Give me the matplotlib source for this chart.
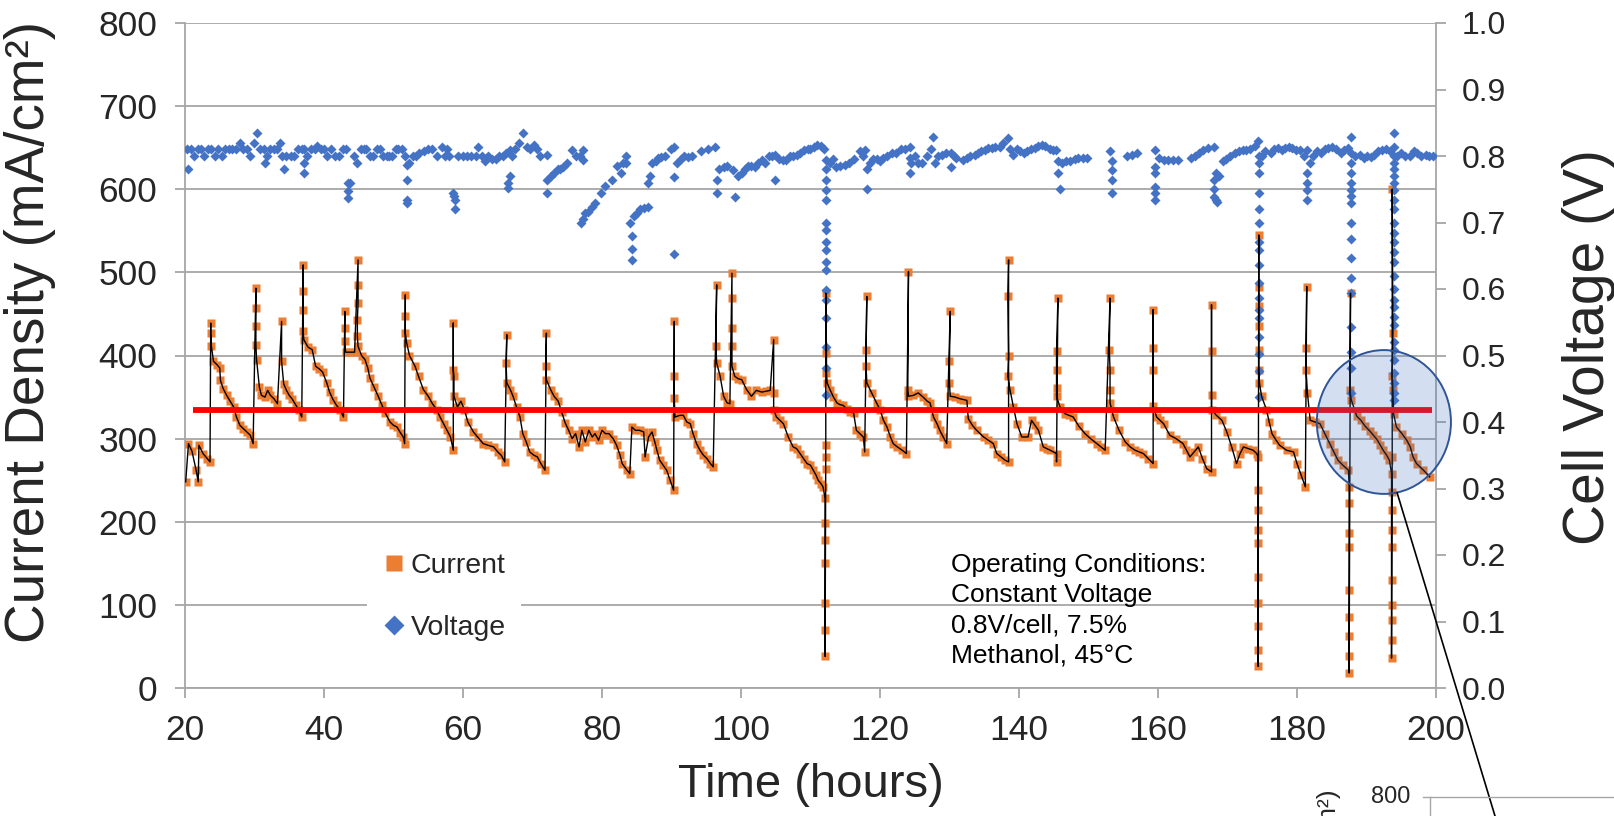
import matplotlib
matplotlib.use('Agg')
import matplotlib.pyplot as plt
from matplotlib.lines import Line2D
from matplotlib.patches import Ellipse, ConnectionPatch

plt.rcParams['font.family'] = ['Liberation Sans', 'DejaVu Sans']

# (time h, current density mA/cm2), in time order
current_points = [
    (20.1, 248), (20.5, 294), (21.0, 285), (21.6, 262), (21.9, 248), (22.0, 292), (22.6, 282),
    (23.2, 276), (23.6, 272), (23.7, 439), (23.7, 427), (23.8, 411), (24.1, 393), (24.6, 389),
    (25.0, 385), (25.1, 370), (25.5, 360), (26.0, 352), (26.5, 345), (27.0, 338), (27.4, 326),
    (27.9, 316), (28.4, 312), (28.9, 308), (29.4, 304), (29.8, 294), (30.2, 481), (30.2, 457),
    (30.2, 435), (30.2, 413), (30.3, 395), (30.7, 362), (31.0, 352), (31.5, 350), (31.9, 358),
    (32.3, 352), (32.8, 348), (33.3, 342), (33.9, 441), (33.9, 393), (34.2, 366), (34.6, 358),
    (35.0, 352), (35.4, 348), (35.9, 341), (36.4, 334), (36.8, 326), (37.0, 509), (37.0, 477),
    (37.0, 455), (37.0, 429), (37.1, 419), (37.7, 410), (38.3, 407), (38.8, 387), (39.3, 384),
    (39.8, 380), (40.4, 367), (40.8, 356), (41.3, 347), (41.8, 340), (42.3, 335), (42.8, 326),
    (43.0, 453), (43.0, 433), (43.0, 417), (43.1, 404), (43.8, 404), (44.4, 404), (44.9, 515),
    (44.9, 485), (44.9, 463), (44.8, 443), (44.8, 423), (44.9, 411), (45.4, 400), (45.9, 395),
    (46.3, 385), (46.6, 373), (47.2, 362), (47.8, 351), (48.3, 341), (48.8, 331), (49.5, 320),
    (50.0, 316), (50.5, 314), (51.0, 307), (51.4, 302), (51.6, 294), (51.7, 473), (51.7, 447),
    (51.7, 427), (51.9, 415), (52.3, 400), (53.1, 387), (53.6, 375), (54.3, 359), (55.0, 351),
    (55.6, 342), (56.2, 335), (56.7, 326), (57.2, 318), (57.7, 310), (58.2, 302), (58.6, 286),
    (58.6, 439), (58.6, 383), (58.7, 375), (58.7, 351), (59.2, 338), (59.7, 345), (60.2, 335),
    (60.7, 320), (61.5, 308), (62.1, 302), (62.9, 294), (63.6, 292), (64.4, 290), (65.0, 284),
    (65.5, 280), (66.0, 272), (66.3, 425), (66.2, 391), (66.3, 367), (66.8, 359), (67.2, 351),
    (67.7, 338), (68.2, 326), (68.6, 306), (69.1, 296), (69.6, 284), (70.2, 280), (70.7, 278),
    (71.2, 270), (71.8, 262), (72.0, 427), (71.9, 387), (72.0, 371), (72.6, 359), (73.1, 351),
    (73.7, 345), (74.2, 332), (74.7, 319), (75.2, 310), (75.7, 300), (76.2, 306), (76.7, 290),
    (77.1, 310), (77.6, 296), (78.1, 310), (78.6, 302), (79.0, 306), (79.5, 298), (80.0, 310),
    (80.5, 306), (81.0, 306), (81.6, 300), (82.1, 292), (82.6, 280), (82.9, 270), (83.6, 262),
    (84.0, 258), (84.3, 314), (84.8, 310), (85.4, 310), (86.0, 308), (86.2, 278), (86.7, 302),
    (87.2, 308), (87.6, 296), (87.9, 286), (88.3, 274), (88.8, 268), (89.3, 262), (89.8, 250),
    (90.3, 238), (90.4, 441), (90.4, 375), (90.4, 349), (90.5, 326), (91.2, 328), (91.7, 328),
    (92.2, 320), (92.7, 318), (93.1, 306), (93.6, 294), (94.1, 286), (94.6, 280), (95.1, 276),
    (95.6, 270), (96.0, 266), (96.5, 485), (96.4, 411), (96.5, 391), (97.0, 375), (97.5, 351),
    (98.0, 343), (98.4, 342), (98.7, 499), (98.7, 469), (98.7, 433), (98.7, 411), (98.7, 387),
    (99.1, 375), (99.6, 372), (100.1, 371), (100.8, 359), (101.5, 351), (102.2, 358), (103.0, 356),
    (103.6, 357), (104.2, 358), (104.7, 419), (104.7, 355), (104.7, 335), (105.1, 326), (105.6, 322),
    (106.1, 318), (106.8, 302), (107.5, 290), (108.0, 288), (108.5, 282), (109.0, 276), (109.5, 270),
    (110.0, 268), (110.4, 262), (110.8, 256), (111.1, 250), (111.5, 246), (111.8, 242), (112.1, 228),
    (112.1, 198), (112.1, 178), (112.1, 150), (112.1, 102), (112.1, 70), (112.1, 38), (112.2, 264),
    (112.2, 278), (112.2, 292), (112.2, 475), (112.3, 403), (112.3, 379), (112.4, 367), (112.8, 359),
    (113.3, 350), (113.8, 343), (114.2, 341), (114.7, 340), (115.2, 336), (115.7, 332), (116.2, 331),
    (116.6, 310), (117.1, 306), (117.6, 302), (117.8, 284), (118.1, 471), (118.0, 407), (118.0, 387),
    (118.1, 367), (118.8, 355), (119.5, 343), (120.0, 335), (120.5, 322), (121.0, 314), (121.5, 302),
    (121.9, 294), (122.5, 290), (123.2, 286), (123.8, 282), (124.1, 501), (124.0, 359), (124.1, 351),
    (124.8, 352), (125.5, 355), (126.2, 350), (126.8, 345), (127.2, 343), (127.7, 326), (128.2, 318),
    (128.6, 310), (129.1, 302), (129.6, 294), (130.1, 453), (130.0, 393), (130.0, 367), (130.1, 351),
    (130.8, 350), (131.5, 348), (132.0, 347), (132.5, 346), (132.7, 324), (133.3, 316), (133.9, 310),
    (134.9, 302), (135.6, 298), (136.3, 294), (136.8, 282), (137.4, 278), (138.0, 274), (138.5, 272),
    (138.5, 515), (138.4, 471), (138.5, 399), (138.4, 375), (138.7, 359), (139.2, 338), (139.7, 318),
    (140.4, 302), (141.3, 302), (141.8, 322), (142.3, 316), (142.8, 310), (143.5, 290), (144.0, 288),
    (144.5, 286), (145.4, 282), (145.4, 272), (145.6, 469), (145.4, 405), (145.4, 383), (145.4, 361),
    (145.4, 351), (145.9, 338), (146.6, 330), (147.2, 328), (147.8, 326), (148.6, 315), (149.5, 306),
    (150.3, 300), (151.2, 294), (151.8, 290), (152.4, 286), (153.1, 469), (153.0, 407), (153.1, 383),
    (153.1, 359), (153.1, 343), (153.6, 326), (154.4, 310), (155.3, 296), (156.0, 290), (156.7, 286),
    (157.3, 284), (157.9, 282), (158.6, 276), (159.3, 270), (159.3, 455), (159.3, 409), (159.3, 383),
    (159.3, 339), (159.8, 326), (160.3, 322), (160.8, 318), (161.7, 304), (162.6, 300), (163.6, 294),
    (164.1, 286), (164.6, 278), (165.2, 284), (165.8, 290), (166.4, 276), (167.0, 264), (167.7, 260),
    (167.7, 461), (167.7, 405), (167.7, 353), (167.7, 335), (168.4, 328), (169.2, 322), (169.9, 308),
    (170.6, 290), (171.3, 270), (171.8, 282), (172.3, 290), (173.0, 288), (173.7, 286), (174.2, 282),
    (174.4, 278), (174.4, 238), (174.4, 214), (174.4, 190), (174.4, 174), (174.4, 134), (174.4, 102),
    (174.4, 74), (174.4, 46), (174.4, 26), (174.5, 545), (174.5, 483), (174.5, 459), (174.5, 435),
    (174.5, 407), (174.5, 383), (174.6, 367), (174.9, 351), (175.6, 335), (176.0, 320), (176.4, 306),
    (177.0, 298), (177.5, 292), (178.5, 286), (179.5, 284), (180.0, 270), (180.6, 256), (181.2, 242),
    (181.4, 483), (181.3, 409), (181.3, 383), (181.5, 355), (181.9, 322), (182.6, 320), (183.3, 318),
    (184.0, 306), (184.7, 294), (185.3, 284), (185.9, 274), (186.6, 268), (187.4, 262), (187.5, 242),
    (187.5, 222), (187.5, 186), (187.5, 170), (187.5, 118), (187.5, 86), (187.5, 62), (187.5, 38),
    (187.5, 18), (187.7, 475), (187.6, 359), (187.8, 347), (188.6, 327), (189.2, 322), (189.8, 315),
    (190.5, 309), (191.0, 304), (191.5, 299), (192.0, 292), (192.4, 286), (192.9, 280), (193.3, 274),
    (193.6, 258), (193.6, 236), (193.6, 214), (193.6, 190), (193.6, 170), (193.6, 130), (193.6, 100),
    (193.6, 82), (193.6, 58), (193.6, 36), (193.7, 278), (193.7, 600), (193.8, 427), (193.7, 375),
    (193.8, 359), (193.9, 330), (194.3, 314), (195.1, 306), (195.8, 298), (196.3, 290), (196.7, 278),
    (197.2, 270), (198.2, 262), (199.1, 254),
]

# (time h, cell voltage V)
voltage_points = [
    (20.3, 0.81), (20.4, 0.78), (20.8, 0.81), (21.3, 0.80), (21.8, 0.81), (22.3, 0.81), (22.8, 0.80),
    (23.3, 0.81), (23.8, 0.81), (24.3, 0.80), (24.8, 0.81), (25.3, 0.80), (25.8, 0.81), (26.3, 0.81),
    (26.8, 0.81), (27.3, 0.81), (27.9, 0.82), (28.4, 0.81), (28.9, 0.81), (29.4, 0.80), (29.9, 0.82),
    (30.4, 0.834), (30.8, 0.81), (31.3, 0.81), (31.5, 0.79), (31.8, 0.80), (32.3, 0.81), (32.8, 0.81),
    (33.3, 0.81), (33.6, 0.82), (34.0, 0.80), (34.2, 0.78), (34.6, 0.80), (35.2, 0.80), (35.7, 0.80),
    (36.2, 0.81), (36.8, 0.81), (37.1, 0.81), (37.1, 0.79), (37.1, 0.775), (37.6, 0.80), (38.2, 0.81),
    (38.7, 0.81), (39.0, 0.815), (39.5, 0.81), (40.0, 0.81), (40.5, 0.80), (41.0, 0.81), (41.6, 0.80),
    (42.1, 0.80), (42.7, 0.81), (43.2, 0.81), (43.5, 0.76), (43.5, 0.747), (43.5, 0.737), (43.8, 0.76),
    (44.3, 0.80), (44.8, 0.79), (45.3, 0.81), (45.7, 0.81), (46.1, 0.81), (46.6, 0.80), (47.1, 0.80),
    (47.6, 0.81), (48.0, 0.81), (48.5, 0.80), (49.0, 0.80), (49.3, 0.80), (49.8, 0.80), (50.3, 0.81),
    (50.7, 0.81), (51.2, 0.81), (51.6, 0.80), (51.9, 0.787), (51.9, 0.764), (51.9, 0.734), (51.9, 0.729),
    (52.3, 0.79), (52.8, 0.80), (53.2, 0.80), (53.7, 0.805), (54.4, 0.807), (55.0, 0.81), (55.6, 0.81),
    (56.3, 0.80), (57.0, 0.814), (57.4, 0.80), (57.7, 0.81), (58.0, 0.80), (58.6, 0.745), (58.7, 0.74),
    (58.9, 0.734), (58.9, 0.72), (59.3, 0.80), (60.0, 0.80), (60.6, 0.80), (61.2, 0.80), (61.8, 0.80),
    (62.2, 0.814), (62.8, 0.80), (63.1, 0.792), (63.6, 0.80), (64.2, 0.795), (64.7, 0.795), (65.2, 0.80),
    (65.7, 0.80), (66.2, 0.805), (66.7, 0.809), (66.7, 0.77), (66.5, 0.759), (66.5, 0.752), (67.1, 0.80),
    (67.5, 0.81), (68.0, 0.82), (68.6, 0.834), (69.2, 0.814), (69.7, 0.81), (70.2, 0.817), (70.6, 0.81),
    (71.1, 0.80), (72.1, 0.802), (72.1, 0.764), (72.1, 0.744), (72.6, 0.77), (73.1, 0.774), (73.6, 0.78),
    (74.0, 0.78), (74.4, 0.784), (74.9, 0.79), (75.7, 0.809), (76.2, 0.80), (76.8, 0.80), (77.3, 0.809),
    (77.3, 0.794), (77.0, 0.699), (77.3, 0.705), (77.6, 0.714), (78.0, 0.716), (78.5, 0.724), (79.0, 0.73),
    (79.8, 0.744), (80.5, 0.755), (81.4, 0.764), (82.1, 0.785), (82.7, 0.774), (83.0, 0.79), (83.4, 0.80),
    (83.4, 0.79), (84.0, 0.699), (84.3, 0.679), (84.3, 0.66), (84.3, 0.644), (84.6, 0.71), (85.0, 0.714),
    (85.5, 0.72), (86.0, 0.722), (86.6, 0.724), (86.6, 0.759), (86.9, 0.77), (87.2, 0.789), (87.7, 0.792),
    (88.1, 0.797), (88.5, 0.799), (89.0, 0.80), (90.0, 0.81), (90.4, 0.814), (90.4, 0.769), (90.4, 0.652),
    (90.8, 0.79), (91.3, 0.795), (91.8, 0.80), (92.4, 0.799), (93.0, 0.80), (94.3, 0.807), (95.2, 0.81),
    (96.2, 0.814), (96.5, 0.764), (96.5, 0.744), (96.9, 0.78), (97.5, 0.784), (98.0, 0.785), (98.8, 0.779),
    (99.1, 0.739), (99.5, 0.77), (100.1, 0.774), (100.6, 0.78), (101.0, 0.785), (101.5, 0.785),
    (102.0, 0.784), (102.5, 0.79), (103.0, 0.794), (103.5, 0.79), (104.0, 0.80), (104.5, 0.80),
    (104.9, 0.802), (104.9, 0.764), (105.5, 0.795), (106.0, 0.794), (106.5, 0.794), (107.0, 0.80),
    (107.5, 0.80), (108.0, 0.802), (108.5, 0.805), (109.1, 0.809), (109.6, 0.81), (110.0, 0.81),
    (110.5, 0.814), (111.0, 0.817), (111.5, 0.815), (112.0, 0.81),
    (112.3, 0.794), (112.3, 0.78), (112.3, 0.764), (112.3, 0.749), (112.3, 0.734), (112.3, 0.70),
    (112.3, 0.689), (112.3, 0.67), (112.3, 0.659), (112.3, 0.64), (112.3, 0.629), (112.3, 0.598),
    (112.3, 0.583), (112.3, 0.556), (112.3, 0.513), (112.3, 0.481), (112.3, 0.44),
    (112.8, 0.79), (113.2, 0.795), (113.6, 0.784), (114.2, 0.785), (114.9, 0.787), (115.5, 0.79),
    (116.2, 0.795), (117.1, 0.807), (117.6, 0.80), (117.9, 0.809), (118.2, 0.78), (118.2, 0.751),
    (118.5, 0.79), (119.0, 0.795), (119.5, 0.795), (120.0, 0.792), (120.5, 0.797), (121.0, 0.80),
    (121.7, 0.804), (122.3, 0.805), (123.0, 0.81), (123.6, 0.81), (124.3, 0.814), (124.3, 0.797),
    (124.4, 0.79), (124.3, 0.774), (125.0, 0.80), (125.5, 0.79), (126.1, 0.79), (126.7, 0.80),
    (127.3, 0.81), (127.6, 0.829), (127.9, 0.789), (128.4, 0.80), (128.9, 0.802), (129.5, 0.805),
    (130.2, 0.804), (130.2, 0.784), (130.6, 0.80), (131.0, 0.797), (132.0, 0.794), (132.5, 0.797),
    (133.0, 0.80), (133.6, 0.802), (134.1, 0.804), (134.6, 0.807), (135.1, 0.809), (135.6, 0.812),
    (136.1, 0.812), (136.6, 0.814), (137.2, 0.814), (137.7, 0.82), (138.4, 0.827), (138.7, 0.81),
    (139.2, 0.802), (139.7, 0.81), (140.2, 0.807), (140.7, 0.804), (141.2, 0.807), (141.7, 0.81),
    (142.3, 0.812), (142.8, 0.815), (143.3, 0.817), (143.8, 0.815), (144.4, 0.81), (144.9, 0.809),
    (145.3, 0.809), (145.6, 0.792), (145.6, 0.774), (145.9, 0.75), (146.2, 0.789), (146.8, 0.792),
    (147.4, 0.792), (148.0, 0.795), (148.5, 0.797), (149.2, 0.797), (149.8, 0.797), (153.1, 0.807),
    (153.4, 0.792), (153.4, 0.779), (153.4, 0.764), (153.4, 0.745), (155.6, 0.80), (156.2, 0.802),
    (157.0, 0.804), (159.6, 0.809), (159.6, 0.784), (159.6, 0.774), (159.6, 0.754), (159.6, 0.744),
    (159.6, 0.734), (160.2, 0.797), (160.8, 0.794), (161.5, 0.794), (162.2, 0.794), (162.9, 0.794),
    (164.7, 0.797), (165.3, 0.80), (165.9, 0.805), (166.5, 0.809), (167.2, 0.812), (168.0, 0.814),
    (168.4, 0.774), (168.0, 0.764), (168.0, 0.751), (168.0, 0.739), (168.3, 0.734), (168.5, 0.731),
    (168.8, 0.77), (169.3, 0.792), (169.8, 0.795), (170.4, 0.80), (171.1, 0.804), (171.6, 0.807),
    (172.2, 0.809), (172.7, 0.809), (173.2, 0.81), (174.0, 0.815), (174.4, 0.822),
    (174.5, 0.80), (174.5, 0.789), (174.5, 0.774), (174.5, 0.744), (174.5, 0.72), (174.5, 0.70),
    (174.5, 0.67), (174.5, 0.659), (174.5, 0.636), (174.5, 0.609), (174.5, 0.586), (174.5, 0.568),
    (174.5, 0.556), (174.5, 0.528), (174.5, 0.503), (174.5, 0.476), (174.5, 0.438),
    (174.9, 0.80), (175.4, 0.807), (176.2, 0.804), (176.7, 0.81), (177.2, 0.812), (177.8, 0.809),
    (178.3, 0.812), (178.8, 0.814), (179.3, 0.812), (179.8, 0.809), (180.4, 0.809), (181.0, 0.80),
    (181.4, 0.809), (181.9, 0.789), (181.4, 0.774), (181.4, 0.76), (181.4, 0.749), (181.4, 0.734),
    (182.3, 0.80), (182.9, 0.807), (183.4, 0.804), (184.0, 0.81), (184.5, 0.812), (185.0, 0.814),
    (185.6, 0.81), (186.3, 0.804), (186.8, 0.809), (187.3, 0.812),
    (187.8, 0.829), (187.8, 0.804), (187.8, 0.79), (187.8, 0.774), (187.8, 0.76), (187.8, 0.749),
    (187.8, 0.74), (187.8, 0.73), (187.8, 0.70), (187.8, 0.675), (187.8, 0.646), (187.8, 0.616),
    (187.8, 0.594), (187.8, 0.543), (187.8, 0.506), (187.8, 0.481), (187.8, 0.443),
    (188.4, 0.80), (189.1, 0.802), (189.6, 0.797), (190.1, 0.80), (190.6, 0.799), (191.1, 0.802),
    (191.6, 0.807), (192.2, 0.809), (192.8, 0.81), (193.4, 0.807),
    (193.9, 0.834), (193.9, 0.814), (193.9, 0.80), (193.9, 0.79), (193.9, 0.78), (193.9, 0.77),
    (193.9, 0.76), (193.9, 0.749), (193.9, 0.734), (193.9, 0.72), (193.9, 0.70), (193.9, 0.684),
    (193.9, 0.67), (193.9, 0.655), (193.9, 0.64), (193.9, 0.62), (193.9, 0.60), (193.9, 0.583),
    (193.9, 0.573), (193.9, 0.558), (193.9, 0.546), (193.9, 0.52), (193.9, 0.508), (193.9, 0.493),
    (193.9, 0.473), (193.9, 0.458), (193.9, 0.443), (193.9, 0.433),
    (194.4, 0.80), (195.0, 0.805), (195.6, 0.80), (196.2, 0.80), (196.8, 0.807), (197.3, 0.804),
    (197.9, 0.80), (198.5, 0.802), (199.0, 0.80), (199.6, 0.80),
]

target_current = 334          # red reference line, mA/cm2
target_start, target_end = 21.1, 199.4

x_ticks = list(range(20, 201, 20))
y_ticks = list(range(0, 801, 100))
v_ticks = [i / 10 for i in range(11)]

notes = 'Operating Conditions:\nConstant Voltage\n0.8V/cell, 7.5%\nMethanol, 45°C'

ORANGE = '#ED7D31'
BLUE = '#4472C4'
GRID = '#A6A6A6'
TEXT = '#262626'

cur_t = [p[0] for p in current_points]
cur_i = [p[1] for p in current_points]
volt_t = [p[0] for p in voltage_points]
volt_v = [p[1] for p in voltage_points]

W, H = 1615, 816
fig = plt.figure(figsize=(W / 100, H / 100), dpi=100)
ax = fig.add_axes([185 / W, (H - 688) / H, 1251 / W, 665 / H])
ax2 = ax.twinx()

ax.plot(cur_t, cur_i, ls='none', marker='s', ms=6.4, color=ORANGE, mec='none', zorder=3)
ax2.plot(volt_t, volt_v, ls='none', marker='D', ms=5.0, color=BLUE, mec='none', zorder=3)
# black trace and red target on top of both series
ax2.plot(cur_t, cur_i, color='black', lw=1.0, transform=ax.transData, zorder=4)
ax2.plot([target_start, target_end], [target_current, target_current], color='#FF0000',
         lw=4.2, solid_capstyle='butt', transform=ax.transData, zorder=5)

ax.set_xlim(20, 200)
ax.set_ylim(0, 800)
ax2.set_ylim(0, 1.0)
ax.set_xticks(x_ticks)
ax.set_yticks(y_ticks)
ax2.set_yticks(v_ticks)
ax2.set_yticklabels([f'{v:.1f}' for v in v_ticks])

ax.grid(axis='y', color=GRID, lw=1.3)
ax.set_axisbelow(True)
for a in (ax, ax2):
    for side, sp in a.spines.items():
        sp.set_color(GRID)
        sp.set_linewidth(1.3)
    a.spines['top'].set_visible(False)
ax.spines['right'].set_visible(False)
ax2.spines['left'].set_visible(False)
ax2.spines['bottom'].set_visible(False)

ax.tick_params(axis='both', direction='out', length=7.5, width=1.3, color=GRID,
               labelsize=25.5, labelcolor=TEXT)
ax.tick_params(axis='y', pad=12.5)
ax.tick_params(axis='x', pad=11)
ax2.tick_params(axis='y', direction='out', length=7.5, width=1.3, color=GRID,
                labelsize=23, labelcolor=TEXT, pad=11)

ax.set_ylabel('Current Density (mA/cm²)', fontsize=39.5, color=TEXT)
ax.yaxis.set_label_coords(-0.103, 0.536)
ax.set_xlabel('Time (hours)', fontsize=34, color=TEXT)
ax.xaxis.set_label_coords(0.5, -0.113)
ax2.set_ylabel('Cell Voltage (V)', fontsize=41, color=TEXT)
ax2.yaxis.set_label_coords(1.101, 0.512)

handles = [Line2D([], [], ls='none', marker='s', ms=12, color=ORANGE, mec='none'),
           Line2D([], [], ls='none', marker='D', ms=10, color=BLUE, mec='none')]
leg = ax2.legend(handles, ['Current', 'Voltage'], loc='center',
                 bbox_to_anchor=(444 / W, 1 - 597 / H), bbox_transform=fig.transFigure,
                 fontsize=20.5, frameon=True, fancybox=False, edgecolor='none',
                 facecolor='white', framealpha=1, labelspacing=1.25,
                 handlelength=0.8, handletextpad=0.2, borderpad=0.55)
for t in leg.get_texts():
    t.set_color(TEXT)

fig.text(951 / W, 1 - 553 / H, notes, fontsize=19, va='top', ha='left',
         color='black', linespacing=1.33)

# highlighted region and connector to the (cropped) enlarged view
hl = Ellipse((192.5, 320), 19.3, 173, transform=ax.transData, facecolor=BLUE,
             alpha=0.23, edgecolor='none', clip_on=False, zorder=6)
hl_edge = Ellipse((192.5, 320), 19.3, 173, transform=ax.transData, facecolor='none',
                  edgecolor='#2F5597', lw=1.4, clip_on=False, zorder=7)
ax2.add_patch(hl)
ax2.add_patch(hl_edge)
con = ConnectionPatch(xyA=(194.4, 235), coordsA=ax.transData,
                      xyB=(1495 / W, 0.0), coordsB=fig.transFigure,
                      color='black', lw=1.2)
fig.add_artist(con)

# edge of the enlarged view, cut by the figure border
fig.add_artist(Line2D([1423 / W, 1.0], [1 - 797 / H] * 2, color=GRID, lw=1.0))
fig.add_artist(Line2D([1430 / W] * 2, [1 - 797 / H, 0.0], color=GRID, lw=1.0))
fig.text(1410 / W, 1 - 797 / H, '800', fontsize=17, ha='right', va='center', color=TEXT)
fig.text(1329 / W, 1 - 789 / H, 'Current Density (mA/cm²)', fontsize=19, rotation=90,
         ha='center', va='top', color=TEXT)

fig.savefig('out.png', dpi=100)
